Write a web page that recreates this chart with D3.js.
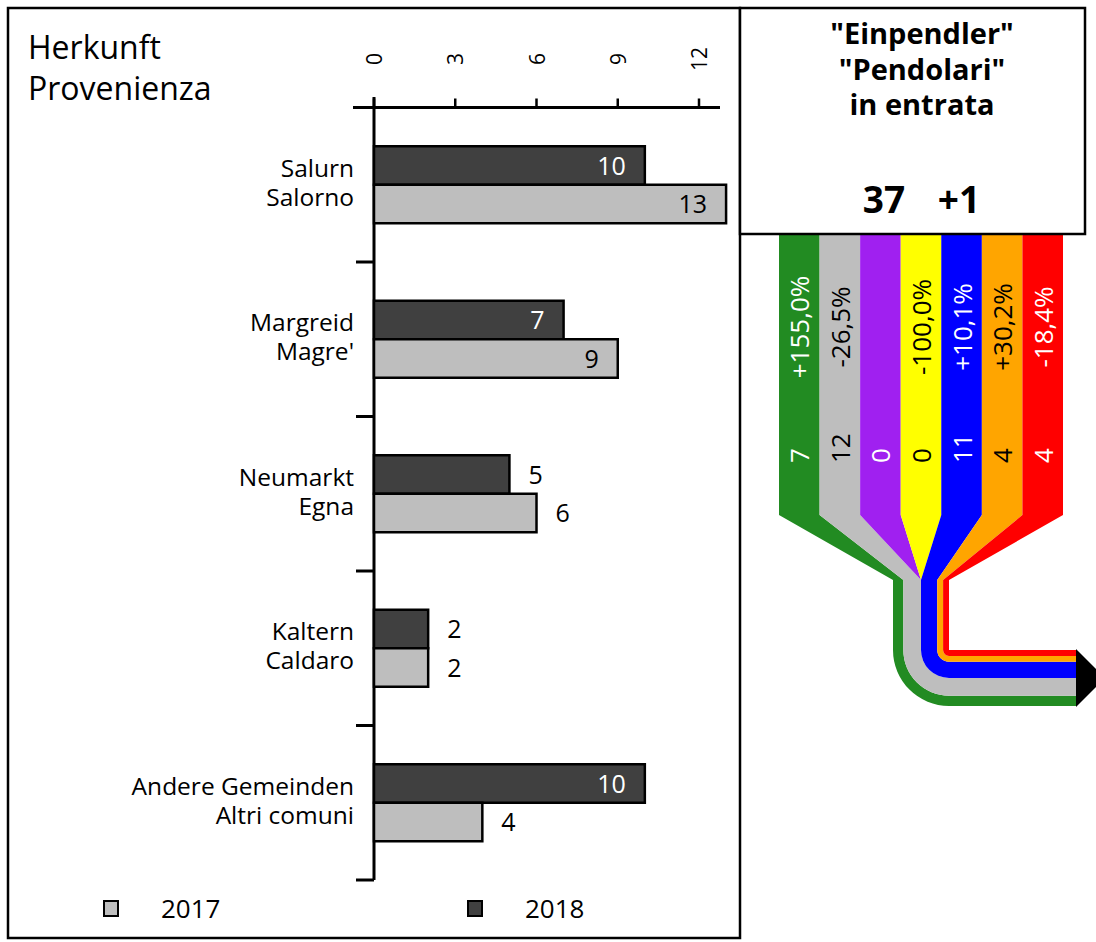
<!DOCTYPE html>
<html>
<head>
<meta charset="utf-8">
<script src="https://cdn.jsdelivr.net/npm/d3@7"></script>
<style>
  html, body { margin: 0; padding: 0; background: #fff; }
  svg { display: block; font-family: "Open Sans", "Noto Sans", sans-serif; }
</style>
</head>
<body>
<svg id="chart" width="1096" height="942"></svg>
<script>
// ---- Bar chart data: commuters by municipality of origin ----
const categoriesDe = ["Salurn", "Margreid", "Neumarkt", "Kaltern", "Andere Gemeinden"];
const categoriesIt = ["Salorno", "Magre'", "Egna", "Caldaro", "Altri comuni"];
const values2018 = [10, 7, 5, 2, 10];
const values2017 = [13, 9, 6, 2, 4];
const xTicks = [0, 3, 6, 9, 12];
const legendYears = ["2017", "2018"];

// ---- Flow ribbon data ----
const flowValues = [7, 12, 0, 0, 11, 4, 4];
const flowChanges = ["+155,0%", "-26,5%", "", "-100,0%", "+10,1%", "+30,2%", "-18,4%"];
const flowColors = ["#228b22", "#bebebe", "#a020f0", "#ffff00", "#0000ff", "#ffa500", "#ff0000"];
const flowTextColors = ["#ffffff", "#000000", "#ffffff", "#000000", "#ffffff", "#000000", "#ffffff"];
const titleLines = ["\"Einpendler\"", "\"Pendolari\"", "in entrata"];
const totalValue = "37";
const totalChange = "+1";

const svg = d3.select("#chart");
const barColors = { "2017": "#bebebe", "2018": "#404040" };

// ---------------- Bar chart ----------------
const x = d3.scaleLinear().domain([0, 12]).range([374, 699]);
const y = d3.scaleBand().domain(d3.range(categoriesDe.length)).range([107.5, 880]);
const barH = 38.5;

// top axis with rotated tick labels
const xAxisG = svg.append("g").attr("transform", "translate(0,107.5)");
xAxisG.append("line")
  .attr("x1", x(0) - 21).attr("x2", x(12) + 21)
  .attr("stroke", "#000").attr("stroke-width", 3);
xAxisG.selectAll("line.tick").data(xTicks).join("line")
  .attr("class", "tick")
  .attr("x1", d => x(d)).attr("x2", d => x(d))
  .attr("y1", 0).attr("y2", -9)
  .attr("stroke", "#000").attr("stroke-width", 2.5);
svg.selectAll("text.xtick").data(xTicks).join("text")
  .attr("class", "xtick")
  .attr("transform", d => `translate(${x(d)},59) rotate(-90)`)
  .attr("text-anchor", "middle")
  .attr("dominant-baseline", "central")
  .attr("font-size", 21)
  .text(d => d);

// left axis with band boundary ticks
svg.append("line")
  .attr("x1", x(0)).attr("x2", x(0))
  .attr("y1", 97).attr("y2", y.range()[1])
  .attr("stroke", "#000").attr("stroke-width", 3);
const bounds = d3.range(1, categoriesDe.length + 1).map(i => y.range()[0] + i * y.step());
svg.selectAll("line.ytick").data(bounds).join("line")
  .attr("class", "ytick")
  .attr("x1", x(0) - 18).attr("x2", x(0))
  .attr("y1", d => d).attr("y2", d => d)
  .attr("stroke", "#000").attr("stroke-width", 3);

// bars
const rows = categoriesDe.map((c, i) => ({
  i, de: c, it: categoriesIt[i],
  bars: [
    { year: "2018", v: values2018[i], top: y(i) + y.bandwidth() / 2 - barH },
    { year: "2017", v: values2017[i], top: y(i) + y.bandwidth() / 2 }
  ]
}));

const rowG = svg.selectAll("g.row").data(rows).join("g").attr("class", "row");
rowG.selectAll("rect").data(d => d.bars).join("rect")
  .attr("x", x(0))
  .attr("y", d => d.top)
  .attr("width", d => x(d.v) - x(0))
  .attr("height", barH)
  .attr("fill", d => barColors[d.year])
  .attr("stroke", "#000").attr("stroke-width", 2.5);

rowG.selectAll("text.val").data(d => d.bars).join("text")
  .attr("class", "val")
  .attr("font-size", 25)
  .attr("x", d => d.v > 6 ? x(d.v) - 19 : x(d.v) + 19)
  .attr("y", d => d.top + barH / 2 + 9)
  .attr("text-anchor", d => d.v > 6 ? "end" : "start")
  .attr("fill", d => (d.v > 6 && d.year === "2018") ? "#ffffff" : "#000000")
  .text(d => d.v);

// two-line category label (German / Italian)
const catText = rowG.append("text")
  .attr("text-anchor", "end").attr("font-size", 24.5);
catText.append("tspan")
  .attr("x", 354).attr("y", d => y(d.i) + y.bandwidth() / 2 - 8)
  .text(d => d.de);
catText.append("tspan")
  .attr("x", 354).attr("dy", 29)
  .text(d => d.it);

// titles
const headL = svg.append("text").attr("font-size", 32);
headL.append("tspan").attr("x", 28).attr("y", 59).text("Herkunft");
headL.append("tspan").attr("x", 28).attr("dy", 41).text("Provenienza");

// legend
const legendX = [104, 468];
const lg = svg.selectAll("g.legend").data(legendYears).join("g")
  .attr("class", "legend")
  .attr("transform", (d, i) => `translate(${legendX[i]},901)`);
lg.append("rect").attr("width", 14).attr("height", 15)
  .attr("fill", d => barColors[d]).attr("stroke", "#000").attr("stroke-width", 2);
lg.append("text").attr("x", 57).attr("y", 16.5).attr("font-size", 26).text(d => d);

// ---------------- Flow ribbons ----------------
const col = d3.scaleBand().domain(d3.range(flowValues.length)).range([779, 1063]);
const pipeW = d3.scaleLinear().domain([0, d3.sum(flowValues)]).range([0, 56]);
const yTop = 234, yColBottom = 515, yFunnel = 580;
const bendX = 949, bendY = 650, pipeEnd = 1076;

const flows = flowValues.map((v, i) => {
  const inner = d3.sum(flowValues.slice(i + 1));
  return { i, v, r0: pipeW(inner), r1: pipeW(inner + v) };
});

function ribbon(d) {
  const c0 = col(d.i), c1 = col(d.i) + col.bandwidth();
  const p = d3.path();
  p.moveTo(c0, yTop);
  p.lineTo(c0, yColBottom);
  p.lineTo(bendX - d.r1, yFunnel);
  p.lineTo(bendX - d.r1, bendY);
  p.arc(bendX, bendY, d.r1, Math.PI, Math.PI / 2, true);
  p.lineTo(pipeEnd, bendY + d.r1);
  p.lineTo(pipeEnd, bendY + d.r0);
  p.lineTo(bendX, bendY + d.r0);
  if (d.r0 > 0) p.arc(bendX, bendY, d.r0, Math.PI / 2, Math.PI, false);
  p.lineTo(bendX - d.r0, yFunnel);
  p.lineTo(c1, yColBottom);
  p.lineTo(c1, yTop);
  p.closePath();
  return p.toString();
}

svg.append("g").selectAll("path").data(flows).join("path")
  .attr("d", ribbon)
  .attr("fill", d => flowColors[d.i]);

// arrow head at the end of the pipe
const total = d3.sum(flowValues);
svg.append("path")
  .attr("d", `M${pipeEnd},${bendY - 1}L${pipeEnd + 29},${bendY + pipeW(total) / 2}L${pipeEnd},${bendY + pipeW(total) + 1}Z`)
  .attr("fill", "#000");

const labG = svg.append("g").selectAll("g").data(flows).join("g");
labG.append("text")
  .attr("transform", d => `translate(${col(d.i) + col.bandwidth() / 2},327) rotate(-90)`)
  .attr("text-anchor", "middle").attr("dominant-baseline", "central")
  .attr("font-size", 26)
  .attr("fill", d => flowTextColors[d.i])
  .text(d => flowChanges[d.i]);
labG.append("text")
  .attr("transform", d => `translate(${col(d.i) + col.bandwidth() / 2},463) rotate(-90)`)
  .attr("text-anchor", "start").attr("dominant-baseline", "central")
  .attr("font-size", 26)
  .attr("fill", d => flowTextColors[d.i])
  .text(d => d.v);

// frames
svg.append("rect").attr("x", 8).attr("y", 8).attr("width", 732).attr("height", 930)
  .attr("fill", "none").attr("stroke", "#000").attr("stroke-width", 2.5);
svg.append("rect").attr("x", 740).attr("y", 8).attr("width", 345).attr("height", 226)
  .attr("fill", "#fff").attr("stroke", "#000").attr("stroke-width", 2.5);

// header box text
const headR = svg.append("text")
  .attr("text-anchor", "middle").attr("font-size", 29).attr("font-weight", "bold");
headR.selectAll("tspan").data(titleLines).join("tspan")
  .attr("x", 922).attr("y", (d, i) => 44 + i * 35.5)
  .text(d => d);
svg.append("text").attr("x", 884).attr("y", 213).attr("text-anchor", "middle")
  .attr("font-size", 37).attr("font-weight", "bold").text(totalValue);
svg.append("text").attr("x", 959).attr("y", 213).attr("text-anchor", "middle")
  .attr("font-size", 37).attr("font-weight", "bold").text(totalChange);
</script>
</body>
</html>
